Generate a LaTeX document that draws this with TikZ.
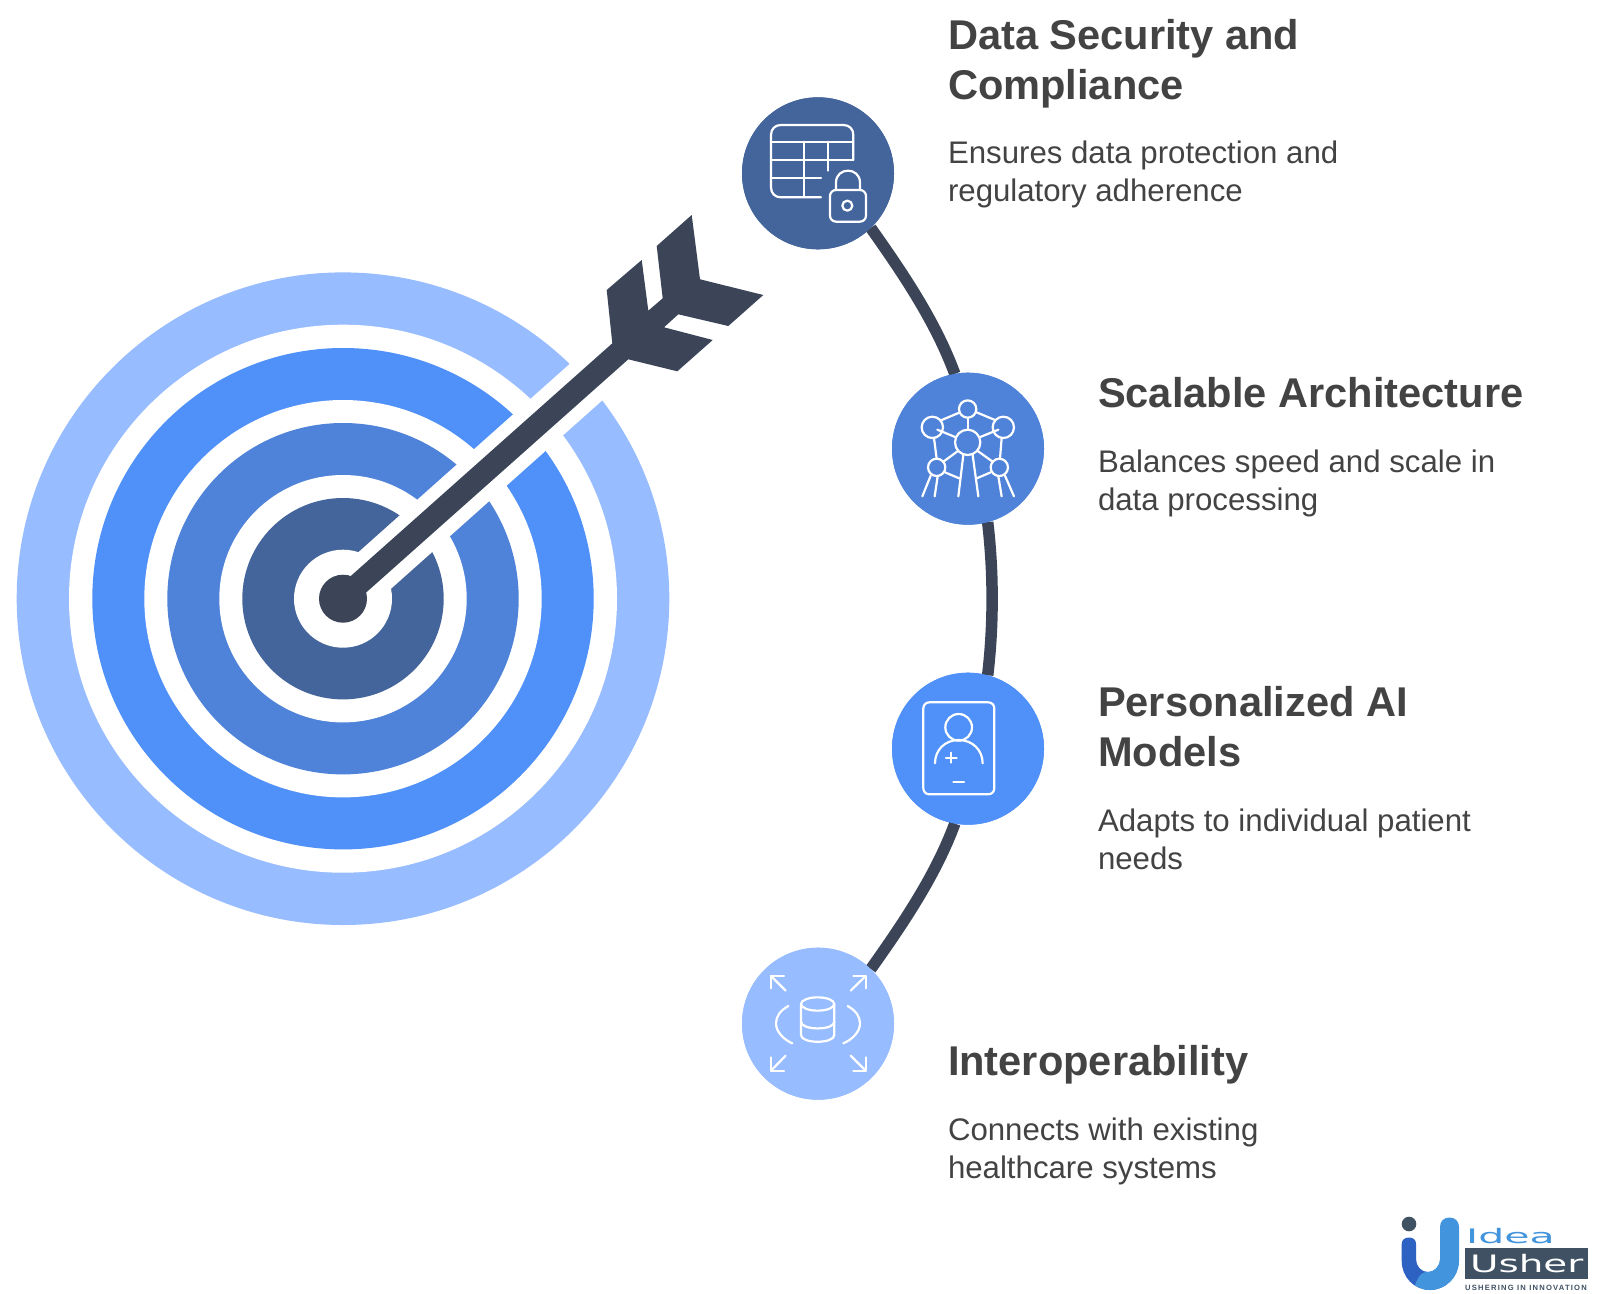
\documentclass[tikz,border=0pt]{standalone}
\usepackage{fontspec}
\usepackage{graphicx}
\setmainfont{Liberation Sans}
\newfontfamily\logofont{DejaVu Sans}
\definecolor{cdeep}{HTML}{44659B}
\definecolor{cmid}{HTML}{4F83D9}
\definecolor{cbright}{HTML}{4F90F9}
\definecolor{clight}{HTML}{97BCFF}
\definecolor{cdark}{HTML}{3B4557}
\definecolor{ctext}{HTML}{434343}
\definecolor{logodark}{HTML}{3F5163}
\definecolor{logoblue}{HTML}{4294DC}
\definecolor{logodeep}{HTML}{2E62C2}
\tikzset{
  badge/.style={circle,minimum size=152pt,inner sep=0pt,outer sep=0pt},
  ttl/.style={anchor=base west,inner sep=0pt,outer sep=0pt,align=left,text=ctext,font=\fontsize{41.6}{50}\selectfont\bfseries},
  dsc/.style={anchor=base west,inner sep=0pt,outer sep=0pt,align=left,text=ctext,font=\fontsize{31.2}{37.7}\selectfont},
  link/.style={draw=cdark,line width=11.5pt},
  ico/.style={draw=white,line width=2.2pt,line cap=round,line join=round},
}
\begin{document}
\begin{tikzpicture}[x=1pt,y=-1pt]
\useasboundingbox (0,0) rectangle (1600,1293);
\fill[white] (0,0) rectangle (1600,1293);
\begin{scope}[shift={(0,0.7)}]
% target
\fill[clight] (343,598) circle[radius=326.3];
\fill[white] (343,598) circle[radius=274];
\fill[cbright] (343,598) circle[radius=250.7];
\fill[white] (343,598) circle[radius=198.7];
\fill[cmid] (343,598) circle[radius=175.7];
\fill[white] (343,598) circle[radius=123.7];
\fill[cdeep] (343,598) circle[radius=100.7];
\fill[white] (343,598) circle[radius=49];
% white band along the shaft
\fill[white] (326.7,579.7) -- (581.5,352.7) -- (614,389.2) -- (359.3,616.3) -- cycle;
% arrow
\fill[cdark] (343,598) circle[radius=24];
\fill[cdark] (335.5,588.9) -- (612.3,342.6) -- (606.7,289.3) -- (641.7,259.3) -- (648.3,310) -- (662.7,297.6)
  -- (656.7,245.3) -- (691.7,214.3) -- (700,278.6) -- (763.3,294.3) -- (728.3,325.3) -- (678.3,313.6) -- (664,326.6)
  -- (712.7,339.3) -- (677.3,370.6) -- (628.3,358.6) -- (350.5,605.7) -- cycle;
% badges
\node[badge,fill=cdeep] (n1) at (818,172.6) {};
\node[badge,fill=cmid] (n2) at (968,448) {};
\node[badge,fill=cbright] (n3) at (968,748) {};
\node[badge,fill=clight] (n4) at (818,1023) {};
% connectors
\draw[link] (n1.-46) to[out=-54.7,in=110.3,looseness=.85] (n2.100);
\draw[link] (n2.-75.6) to[out=-83.3,in=83.3,looseness=.85] (n3.75.6);
\draw[link] (n3.-100) to[out=-110.3,in=54.7,looseness=.85] (n4.46);
\fill[cdeep] (818,172.6) circle[radius=76];
\fill[cmid] (968,448) circle[radius=76];
\fill[cbright] (968,748) circle[radius=76];
\fill[clight] (818,1023) circle[radius=76];
% icon 1
\begin{scope}[shift={(710,79.3)},x=.3333pt,y=-.3333pt]
\draw[ico] (333,352) -- (213,352) .. controls (195,352) and (183,340) .. (183,322) -- (183,165) .. controls (183,147) and (195,135) .. (213,135)
  -- (400,135) .. controls (418,135) and (430,147) .. (430,165) -- (430,240);
\draw[ico] (183,185) -- (430,185);
\draw[ico] (183,240) -- (430,240);
\draw[ico] (183,295) -- (333,295);
\draw[ico] (283,185) -- (283,352);
\draw[ico] (355,185) -- (355,272);
\draw[ico,rounded corners=6pt] (360,330) rectangle (468,425);
\draw[ico] (378,330) -- (378,308) .. controls (378,260) and (450,260) .. (450,308) -- (450,330);
\draw[ico] (412,377) circle[radius=15];
\end{scope}
% icon 2
\begin{scope}[shift={(860,355)},x=.3333pt,y=-.3333pt]
\draw[ico] (323,160) circle[radius=26];
\draw[ico] (217,215) circle[radius=32];
\draw[ico] (430,215) circle[radius=32];
\draw[ico] (323,260) circle[radius=38];
\draw[ico] (230,335) circle[radius=26];
\draw[ico] (418,335) circle[radius=26];
\draw[ico] (300,170) -- (245,193);
\draw[ico] (350,170) -- (405,193);
\draw[ico] (323,186) -- (323,222);
\draw[ico] (232,222) -- (288,245);
\draw[ico] (415,222) -- (358,245);
\draw[ico] (222,247) -- (230,309);
\draw[ico] (425,247) -- (420,309);
\draw[ico] (295,285) -- (250,318);
\draw[ico] (352,285) -- (398,318);
\draw[ico] (255,350) -- (298,368);
\draw[ico] (392,350) -- (350,368);
\draw[ico] (310,298) -- (295,422);
\draw[ico] (338,298) -- (355,422);
\draw[ico] (212,360) -- (187,422);
\draw[ico] (233,362) -- (224,422);
\draw[ico] (415,362) -- (425,422);
\draw[ico] (435,360) -- (462,422);
\end{scope}
% icon 3
\begin{scope}[shift={(860,649.3)},x=.3333pt,y=-.3333pt]
\draw[ico,rounded corners=6pt] (190,157) rectangle (403,433);
\draw[ico] (296,232) circle[radius=40];
\draw[ico] (225,340) .. controls (225,300) and (255,270) .. (296,270) .. controls (337,270) and (368,300) .. (368,340);
\draw[ico] (258,323) -- (290,323);
\draw[ico] (274,308) -- (274,338);
\draw[ico] (280,397) -- (312,397);
\end{scope}
% icon 4
\begin{scope}[shift={(715,919.3)},x=.3333pt,y=-.3333pt]
\draw[ico] (212,212) -- (168,168);
\draw[ico] (168,205) -- (168,168) -- (207,168);
\draw[ico] (407,212) -- (452,168);
\draw[ico] (415,168) -- (452,168) -- (452,205);
\draw[ico] (212,407) -- (168,452);
\draw[ico] (168,412) -- (168,452) -- (207,452);
\draw[ico] (407,407) -- (452,452);
\draw[ico] (415,452) -- (452,452) -- (452,412);
\draw[ico] (220,258) .. controls (195,272) and (183,290) .. (183,310) .. controls (183,335) and (205,358) .. (232,370);
\draw[ico] (398,258) .. controls (423,272) and (435,290) .. (435,310) .. controls (435,335) and (413,358) .. (385,370);
\draw[ico] (308,252) ellipse[x radius=50,y radius=20];
\draw[ico] (258,252) -- (258,345) .. controls (258,372) and (358,372) .. (358,345) -- (358,252);
\draw[ico] (258,305) .. controls (258,332) and (358,332) .. (358,305);
\end{scope}
\end{scope}
% texts
\node[ttl] (t1) at (948,99) {Data Security and\\Compliance};
\node[dsc] (d1) at (948,201.5) {Ensures data protection and\\regulatory adherence};
\node[ttl] (t2) at (1098,407.5) {Scalable Architecture};
\node[dsc] (d2) at (1098,510) {Balances speed and scale in\\data processing};
\node[ttl] (t3) at (1098,766) {Personalized AI\\Models};
\node[dsc] (d3) at (1098,869) {Adapts to individual patient\\needs};
\node[ttl] (t4) at (948,1075) {Interoperability};
\node[dsc] (d4) at (948,1178) {Connects with existing\\healthcare systems};
% logo
\fill[logodark] (1409,1224) circle[radius=7.3];
\fill[logodeep] (1401.7,1244) .. controls (1401.7,1240) and (1404.5,1237.5) .. (1409,1237.5) .. controls (1413.5,1237.5) and (1416,1240) .. (1416,1244)
  -- (1416,1259) .. controls (1416,1266) and (1421,1272) .. (1428,1272) .. controls (1433,1272) and (1437,1270) .. (1440,1265)
  -- (1446,1285) .. controls (1441,1288) and (1436,1290) .. (1430,1290) .. controls (1414,1290) and (1401.7,1277) .. (1401.7,1261) -- cycle;
\fill[logoblue] (1440,1227) .. controls (1440,1221) and (1444,1217.5) .. (1449.5,1217.5) .. controls (1455,1217.5) and (1459,1221) .. (1459,1227)
  -- (1459,1261) .. controls (1459,1277) and (1446,1290) .. (1430,1290) .. controls (1424,1290) and (1419,1288) .. (1415,1285)
  .. controls (1420,1272) and (1424,1272) .. (1428,1272) .. controls (1434,1272) and (1440,1266) .. (1440,1259) -- cycle;
\node[anchor=west,inner sep=0pt,text=logoblue] (lg1) at (1466,1236) {\scalebox{2.05}[1]{\logofont\fontsize{20}{20}\selectfont Idea}};
\node[fill=logodark,anchor=north west,inner sep=0pt,minimum width=123pt,minimum height=31pt,text=white] (lg2) at (1465,1248) {\scalebox{1.62}[1]{\logofont\fontsize{24}{24}\selectfont Usher}};
\node[anchor=west,inner sep=0pt,text=logodark] (lg3) at (1465,1288) {\fontsize{7.6}{8}\selectfont\bfseries\addfontfeature{LetterSpace=16}USHERING IN INNOVATION};
\end{tikzpicture}
\end{document}
